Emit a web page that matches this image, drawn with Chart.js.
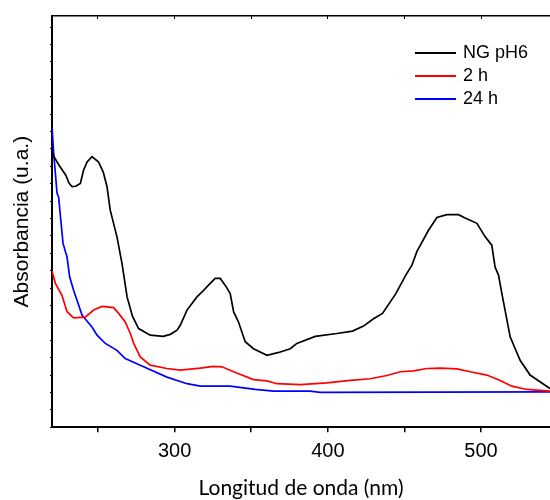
<!DOCTYPE html>
<html>
<head>
<meta charset="utf-8">
<script src="https://cdn.jsdelivr.net/npm/chart.js@4"></script>
<style>
  body { margin: 0; background: #fff; }
  #wrap { position: relative; width: 550px; height: 500px; }
  #legend { position: absolute; left: 415px; top: 41px; font: 18px "Liberation Sans", Arial, sans-serif; }
  #legend .row { display: flex; align-items: flex-start; height: 23px; line-height: 23px; }
  #legend .swatch { display: block; width: 41px; height: 2px; margin-top: 11px; margin-right: 7px; }
</style>
</head>
<body>
<div id="wrap">
  <canvas id="chart-area" width="550" height="500"></canvas>
  <div id="legend"></div>
</div>
<script>
// series names / colours
var seriesNames = ["NG pH6", "2 h", "24 h"];
var seriesColors = ["#000000", "#ff0000", "#0000ff"];

// NG pH6 (wavelength nm, absorbance u.a.)
var ngWl  = [220, 224.6, 229, 231.2, 233.1, 235.5, 238.5, 240.6, 242.9, 246.1, 250.4, 253.5, 255.9, 258, 262.4, 265.7, 269, 272.5, 276.5, 284.1, 292.6, 297.2, 301.6, 303.7, 308.1, 314.6, 317.9, 322, 326.5, 329.8, 333.1, 336.3, 338.5, 341.7, 346.1, 351.5, 360.3, 368, 375.5, 379.8, 391.8, 405.9, 416.1, 423.3, 429.8, 435.7, 444.4, 450.9, 454.9, 458.1, 465.7, 471.2, 477.7, 485.3, 489.6, 497.3, 502.7, 507, 509.2, 511.4, 513.6, 519, 525.5, 532, 545];
var ngAbs = [0.666, 0.637, 0.613, 0.593, 0.585, 0.586, 0.593, 0.625, 0.645, 0.658, 0.645, 0.620, 0.585, 0.528, 0.463, 0.398, 0.317, 0.270, 0.240, 0.224, 0.221, 0.226, 0.236, 0.248, 0.285, 0.317, 0.329, 0.345, 0.362, 0.362, 0.345, 0.325, 0.281, 0.256, 0.208, 0.191, 0.175, 0.182, 0.191, 0.204, 0.221, 0.228, 0.234, 0.246, 0.264, 0.277, 0.325, 0.370, 0.394, 0.427, 0.479, 0.510, 0.517, 0.517, 0.509, 0.496, 0.463, 0.443, 0.389, 0.370, 0.325, 0.220, 0.163, 0.127, 0.094];

// 2 h
var h2Wl  = [220, 222.2, 226.5, 229.8, 234.1, 241.7, 247.2, 252.6, 260.2, 263.5, 267.8, 271.1, 273.3, 277.6, 284.1, 295, 303.7, 316.8, 325.4, 330.9, 338.5, 351.5, 360.3, 366.8, 382, 399.4, 414.6, 427.7, 438.6, 447.4, 456, 464.6, 473.3, 484.2, 492.9, 503.8, 512.5, 520.1, 529.9, 545];
var h2Abs = [0.380, 0.350, 0.321, 0.281, 0.266, 0.268, 0.285, 0.294, 0.291, 0.277, 0.256, 0.228, 0.204, 0.171, 0.151, 0.143, 0.139, 0.144, 0.148, 0.147, 0.135, 0.116, 0.113, 0.106, 0.104, 0.108, 0.114, 0.118, 0.126, 0.135, 0.137, 0.143, 0.144, 0.142, 0.135, 0.127, 0.114, 0.100, 0.092, 0.088];

// 24 h
var h24Wl  = [220, 221.1, 223.3, 224.3, 227.2, 229.8, 231.5, 234.1, 239.6, 240.6, 246.1, 249.4, 253.7, 254.8, 262.4, 267.8, 277.6, 295, 308.1, 316.8, 336.3, 352.6, 364.6, 388.5, 395, 545];
var h24Abs = [0.731, 0.666, 0.569, 0.560, 0.447, 0.414, 0.366, 0.333, 0.273, 0.268, 0.244, 0.224, 0.208, 0.204, 0.187, 0.167, 0.151, 0.122, 0.106, 0.100, 0.100, 0.092, 0.088, 0.088, 0.085, 0.086];

// x tick labels shown
var xLabels = [300, 400, 500];

function pts(xs, ys) {
  return xs.map(function(x, i) { return { x: x, y: ys[i] }; });
}

var allData = [pts(ngWl, ngAbs), pts(h2Wl, h2Abs), pts(h24Wl, h24Abs)];

var config = {
  type: "line",
  data: {
    datasets: allData.map(function(d, i) {
      return {
        label: seriesNames[i],
        data: d,
        borderColor: seriesColors[i],
        borderWidth: 1.7,
        pointRadius: 0,
        tension: 0,
        fill: false
      };
    })
  },
  options: {
    responsive: false,
    animation: false,
    layout: { padding: { top: 16, right: 0, left: 0, bottom: 0 } },
    plugins: { legend: { display: false }, tooltip: { enabled: false } },
    scales: {
      x: {
        type: "linear",
        position: "bottom",
        min: 220,
        max: 545,
        grid: { drawOnChartArea: false, drawTicks: true, tickLength: 5, color: "#000", lineWidth: 1.5 },
        border: { display: true, color: "#000", width: 2 },
        ticks: {
          stepSize: 50,
          includeBounds: false,
          padding: 7,
          color: "#000",
          font: { family: "'Liberation Sans', Arial", size: 20 },
          maxRotation: 0,
          autoSkip: false,
          callback: function(v) { return xLabels.indexOf(v) >= 0 ? String(v) : ""; }
        },
        title: {
          display: true,
          text: "Longitud de onda (nm)",
          color: "#000",
          font: { family: "Lato", size: 21, lineHeight: 1.12 },
          padding: 0
        },
        afterFit: function(s) { s.height = 500 - 427.3; }
      },
      xTop: {
        type: "linear",
        position: "top",
        min: 220,
        max: 545,
        grid: { drawOnChartArea: false, drawTicks: true, tickLength: -3, color: "#000", lineWidth: 1 },
        border: { display: true, color: "#000", width: 1.5 },
        ticks: { display: false, stepSize: 50, includeBounds: false },
        afterFit: function(s) { s.height = 0; }
      },
      y: {
        type: "linear",
        min: 0,
        max: 1,
        grid: { drawOnChartArea: false, drawTicks: true, tickLength: 2, color: "#000", lineWidth: 1 },
        border: { display: true, color: "#000", width: 2 },
        ticks: { display: false, stepSize: 0.0423, includeBounds: false },
        title: {
          display: true,
          text: "Absorbancia (u.a.)",
          color: "#000",
          font: { family: "'Liberation Sans', Arial", size: 21 },
          padding: { top: 9.4, bottom: 0 }
        },
        afterFit: function(s) { s.width = 52; }
      }
    }
  }
};

var ctx = document.getElementById("chart-area").getContext("2d");
var myChart = new Chart(ctx, config);

// legend, top right inside the plot
var legend = document.getElementById("legend");
seriesNames.forEach(function(name, i) {
  var row = document.createElement("div");
  row.className = "row";
  var sw = document.createElement("span");
  sw.className = "swatch";
  sw.style.background = seriesColors[i];
  var txt = document.createElement("span");
  txt.textContent = name;
  row.appendChild(sw);
  row.appendChild(txt);
  legend.appendChild(row);
});
</script>
</body>
</html>
